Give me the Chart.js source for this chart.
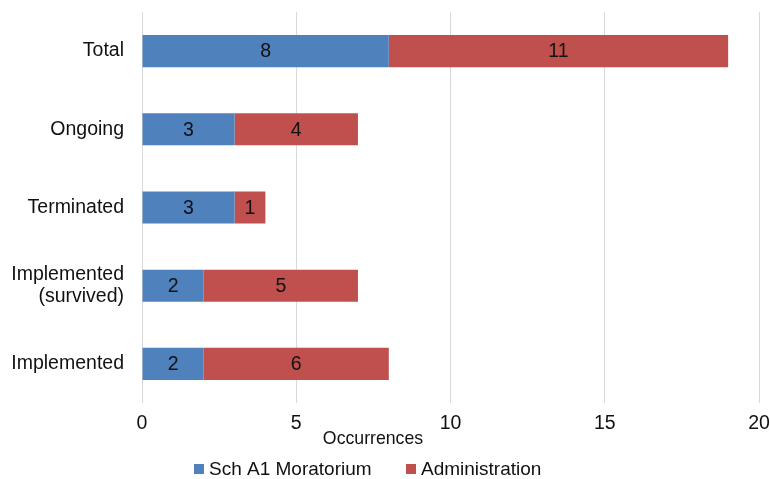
<!DOCTYPE html>
<html>
<head>
<meta charset="utf-8">
<script src="https://cdn.jsdelivr.net/npm/chart.js@4/dist/chart.umd.min.js"></script>
<style>
  html, body { margin: 0; padding: 0; background: #ffffff; }
  #wrap { width: 770px; height: 479px; position: relative; }
</style>
</head>
<body>
<div id="wrap"><canvas id="chart"></canvas></div>
<script>
// Categories, top to bottom
const categories = ['Total', 'Ongoing', 'Terminated', ['Implemented', '(survived)'], 'Implemented'];
// Series values
const moratoriumValues = [8, 3, 3, 2, 2];
const administrationValues = [11, 4, 1, 5, 6];
// Axis ticks
const xTicks = [0, 5, 10, 15, 20];
const axisTitle = 'Occurrences';
const seriesNames = ['Sch A1 Moratorium', 'Administration'];
const seriesColors = ['#4F81BD', '#C0504D'];

const FONT = '"Liberation Sans", Arial, sans-serif';

// Writes each segment's value in the middle of its bar
const barValueLabels = {
  id: 'barValueLabels',
  afterDatasetsDraw(chart) {
    const ctx = chart.ctx;
    ctx.save();
    ctx.font = '19.5px ' + FONT;
    ctx.fillStyle = '#111111';
    ctx.textAlign = 'center';
    ctx.textBaseline = 'middle';
    chart.data.datasets.forEach((ds, i) => {
      const meta = chart.getDatasetMeta(i);
      meta.data.forEach((bar, j) => {
        const p = bar.getProps(['x', 'y', 'base'], true);
        ctx.fillText(String(ds.data[j]), (p.x + p.base) / 2, p.y + 1);
      });
    });
    ctx.restore();
  }
};

// Axis title and legend underneath the plot
const footer = {
  id: 'footer',
  afterDraw(chart) {
    const ctx = chart.ctx;
    ctx.save();
    ctx.fillStyle = '#111111';
    ctx.textBaseline = 'middle';
    ctx.textAlign = 'center';
    ctx.font = '17.7px ' + FONT;
    ctx.fillText(axisTitle, 373, 439);

    ctx.font = '19px ' + FONT;
    ctx.textAlign = 'left';
    const starts = [194, 406];
    chart.data.datasets.forEach((ds, i) => {
      const x = starts[i];
      ctx.fillStyle = ds.backgroundColor;
      ctx.fillRect(x, 464, 10, 10);
      ctx.fillStyle = '#111111';
      ctx.fillText(ds.label, x + 15, 470);
    });
    ctx.restore();
  }
};

new Chart(document.getElementById('chart'), {
  type: 'bar',
  data: {
    labels: categories,
    datasets: [
      { label: seriesNames[0], data: moratoriumValues, backgroundColor: seriesColors[0] },
      { label: seriesNames[1], data: administrationValues, backgroundColor: seriesColors[1] }
    ]
  },
  options: {
    indexAxis: 'y',
    responsive: true,
    maintainAspectRatio: false,
    animation: false,
    layout: { padding: { top: 12, right: 11, bottom: 0, left: 0 } },
    datasets: { bar: { categoryPercentage: 1, barPercentage: 0.41, borderWidth: 0 } },
    scales: {
      x: {
        stacked: true,
        min: 0,
        max: 20,
        afterBuildTicks(scale) { scale.ticks = xTicks.map(v => ({ value: v })); },
        afterFit(scale) {
          scale.height = 76;
          scale.paddingLeft = 0;
          scale.paddingRight = 0;
        },
        ticks: { color: '#111111', font: { family: FONT, size: 19.5 }, padding: 9 },
        grid: { color: '#d9d9d9', lineWidth: 1, drawTicks: false },
        border: { display: false }
      },
      y: {
        stacked: true,
        afterFit(scale) {
          scale.width = 142;
          scale.paddingTop = 0;
          scale.paddingBottom = 0;
        },
        ticks: { color: '#111111', font: { family: FONT, size: 19.5, lineHeight: 1.15 }, padding: 18 },
        grid: { display: false, drawTicks: false },
        border: { display: false }
      }
    },
    plugins: {
      legend: { display: false },
      tooltip: { enabled: false }
    }
  },
  plugins: [barValueLabels, footer]
});
</script>
</body>
</html>
